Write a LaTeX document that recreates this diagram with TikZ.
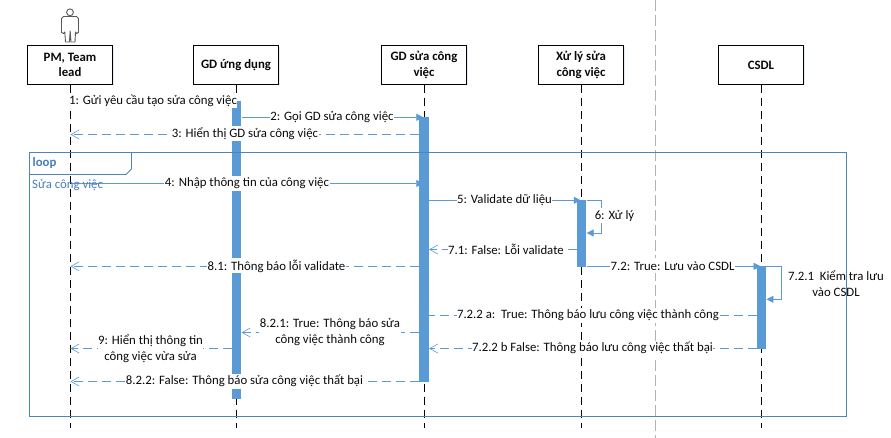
\documentclass[tikz,border=0pt]{standalone}
\usepackage{fontspec}
\setmainfont{Carlito}
\usetikzlibrary{arrows.meta,calc}
\definecolor{msgblue}{HTML}{5B9BD5}
\definecolor{framecol}{HTML}{4A86BC}
\definecolor{looptext}{HTML}{4A7EBB}
\definecolor{inkcol}{HTML}{0A0A0A}
\tikzset{
  headbox/.style={draw=black,line width=0.9pt,fill=white,minimum width=84.5pt,minimum height=38.5pt,inner sep=1pt,align=center,font=\fontsize{12.8}{15.5}\selectfont\bfseries,text=inkcol},
  lifeline/.style={draw=black,line width=0.9pt,dash pattern=on 8pt off 5pt},
  actbar/.style={fill=msgblue,draw=none,minimum width=9.5pt,inner sep=0pt,anchor=north},
  syncmsg/.style={draw=msgblue,line width=0.8pt,-{Triangle[length=7pt,width=7pt,fill=msgblue]}},
  replyline/.style={draw=msgblue,line width=0.8pt,dash pattern=on 9pt off 5pt},
  replymsg/.style={replyline,-{Straight Barb[length=8pt,width=9pt,line width=0.6pt]}},
  lab/.style={fill=white,inner xsep=0.5pt,inner ysep=0pt,minimum height=15pt,align=center,font=\fontsize{12.8}{15.5}\selectfont,text=inkcol},
  framebox/.style={draw=framecol,line width=0.9pt},
}
\begin{document}
\begin{tikzpicture}[x=1pt,y=-1pt]
\useasboundingbox (0,0) rectangle (891,438);
\fill[white] (0,0) rectangle (891,438);
% separator
\coordinate (sepT) at (655.5,0);
\coordinate (sepB) at (655.5,438);
\draw[draw=black!30,line width=0.9pt,dash pattern=on 11pt off 4pt] (sepT) -- (sepB);
% shadows and heads
\foreach \x in {70.5,236,424,581,761}{\fill[msgblue!18] (\x-41.5,47) rectangle (\x+43.5,85.5);}
\node[headbox] (pm)  at (70,65)    {PM, Team\\lead};
\node[headbox] (app) at (236,65)   {GD ứng dụng};
\node[headbox] (gd)  at (424,65)   {GD sửa công\\việc};
\node[headbox] (xl)  at (581,65)   {Xử lý sửa\\công việc};
\node[headbox] (db)  at (761,65)   {CSDL};
% lifelines
\draw[lifeline] (pm.south -| 70.5,0) -- (70.5,428);
\draw[lifeline] (app.south -| 236.5,0) -- (236.5,428);
\draw[lifeline] (gd.south -| 424.5,0) -- (424.5,428);
\draw[lifeline] (xl.south -| 581.5,0) -- (581.5,428);
\draw[lifeline] (db.south -| 761,0) -- (761,428);
% actor
\draw[draw=black!65,line width=0.9pt] (70,12.3) circle (3.4);
\draw[draw=black!65,line width=0.9pt,fill=white,line join=round]
  (63.5,16.5) -- (76.5,16.5) -- (78.5,18.5) -- (78.5,32.5) -- (76.5,33.5) -- (75.5,32)
  -- (75,42) -- (71,42) -- (70.2,31) -- (69.4,42) -- (65.5,42) -- (64.8,32) -- (63.5,33.5) -- (61.5,32.5) -- (61.5,18.5) -- cycle;
% activation bars
\node[actbar,minimum height=298pt] (bA) at (236.7,101) {};
\node[actbar,minimum height=265pt] (bG) at (424.2,117) {};
\node[actbar,minimum height=67pt]  (bX) at (581.7,200) {};
\node[actbar,minimum height=83pt]  (bD) at (761.5,266) {};
% rows
\coordinate (r1) at (0,101);
\coordinate (r2) at (0,117.3);
\coordinate (r3) at (0,134.5);
\coordinate (r4) at (0,183.5);
\coordinate (r5) at (0,200.3);
\coordinate (r6) at (0,233);
\coordinate (r71) at (0,249.5);
\coordinate (r72) at (0,266.3);
\coordinate (r721) at (0,299.3);
\coordinate (r722a) at (0,315.5);
\coordinate (r722b) at (0,348.5);
\coordinate (r81) at (0,266.3);
\coordinate (r821) at (0,332.5);
\coordinate (r822) at (0,381.5);
\coordinate (r9) at (0,348.5);
\coordinate (ll1) at (70.5,0);
\coordinate (loopX) at (601.5,0);
\coordinate (loopD) at (781.5,0);
% messages
\draw[syncmsg] (ll1 |- r1) -- (bA.west |- r1);
\draw[syncmsg,shorten >=-4pt] (bA.east |- r2) -- (bG.west |- r2);
\draw[replymsg] (bG.west |- r3) -- (ll1 |- r3);
\draw[syncmsg,shorten >=-4pt] (ll1 |- r4) -- (bG.west |- r4);
\draw[syncmsg,shorten >=-4pt] (bG.east |- r5) -- (bX.west |- r5);
\draw[syncmsg] (bX.east |- r5) -- (loopX |- r5) -- (loopX |- r6) -- (bX.east |- r6);
\draw[replymsg] (bX.west |- r71) -- (bG.east |- r71);
\draw[syncmsg,shorten >=-4pt] (bX.east |- r72) -- (bD.west |- r72);
\draw[syncmsg] (bD.east |- r72) -- (loopD |- r72) -- (loopD |- r721) -- (bD.east |- r721);
\draw[replyline] (bD.west |- r722a) -- (bG.east |- r722a);
\draw[replymsg] (bD.west |- r722b) -- (bG.east |- r722b);
\draw[replymsg] (bG.west |- r81) -- (ll1 |- r81);
\draw[replymsg] (bG.west |- r821) -- (bA.east |- r821);
\draw[replymsg] (bG.west |- r822) -- (ll1 |- r822);
\draw[replymsg] (bA.west |- r9) -- (ll1 |- r9);
% labels
\node[lab] (t1) at (153,101) {1: Gửi yêu cầu tạo sửa công việc};
\node[lab] (t2) at (332,117) {2: Gọi GD sửa công việc};
\node[lab] (t3) at (245,134) {3: Hiển thị GD sửa công việc};
\node[lab] (t4) at (247,183.5) {4: Nhập thông tin của công việc};
\node[lab] (t5) at (504.5,200) {5: Validate dữ liệu};
\node[lab] (t6) at (614.5,216) {6: Xử lý};
\node[lab] (t71) at (506,249) {7.1: False: Lỗi validate};
\node[lab] (t72) at (672.5,266) {7.2: True: Lưu vào CSDL};
\node[lab] (t721) at (836,283.5) {7.2.1\ \ Kiểm tra lưu\\vào CSDL};
\node[lab] (t722a) at (588,315) {7.2.2 a:\ \ True: Thông báo lưu công việc thành công};
\node[lab] (t722b) at (592.5,348) {7.2.2 b False: Thông báo lưu công việc thất bại};
\node[lab] (t81) at (276.5,266) {8.1: Thông báo lỗi validate};
\node[lab] (t821) at (330,332) {8.2.1: True: Thông báo sửa\\công việc thành công};
\node[lab] (t822) at (244.5,381) {8.2.2: False: Thông báo sửa công việc thất bại};
\node[lab] (t9) at (150.5,348.5) {9: Hiển thị thông tin\\công việc vừa sửa};
% loop frame
\node[draw=none,inner sep=0pt,minimum width=816.5pt,minimum height=263.5pt,anchor=north west] (frm) at (29.5,152.5) {};
\draw[framebox] (frm.north west) rectangle (frm.south east);
\coordinate (tabR) at (131.5,0);
\coordinate (tabC) at (126,0);
\coordinate (tabB) at (0,174.5);
\coordinate (tabM) at (0,169);
\draw[framebox] (tabR |- frm.north) -- (tabR |- tabM) -- (tabC |- tabB) -- (frm.west |- tabB);
\node[anchor=west,inner sep=0pt,text=looptext,font=\fontsize{12.8}{15}\selectfont\bfseries] (lp) at (32.5,163) {loop};
\node[anchor=west,inner sep=0pt,text=looptext,font=\fontsize{12.8}{15}\selectfont] (cond) at (32,185) {Sửa công việc};
\end{tikzpicture}
\end{document}
